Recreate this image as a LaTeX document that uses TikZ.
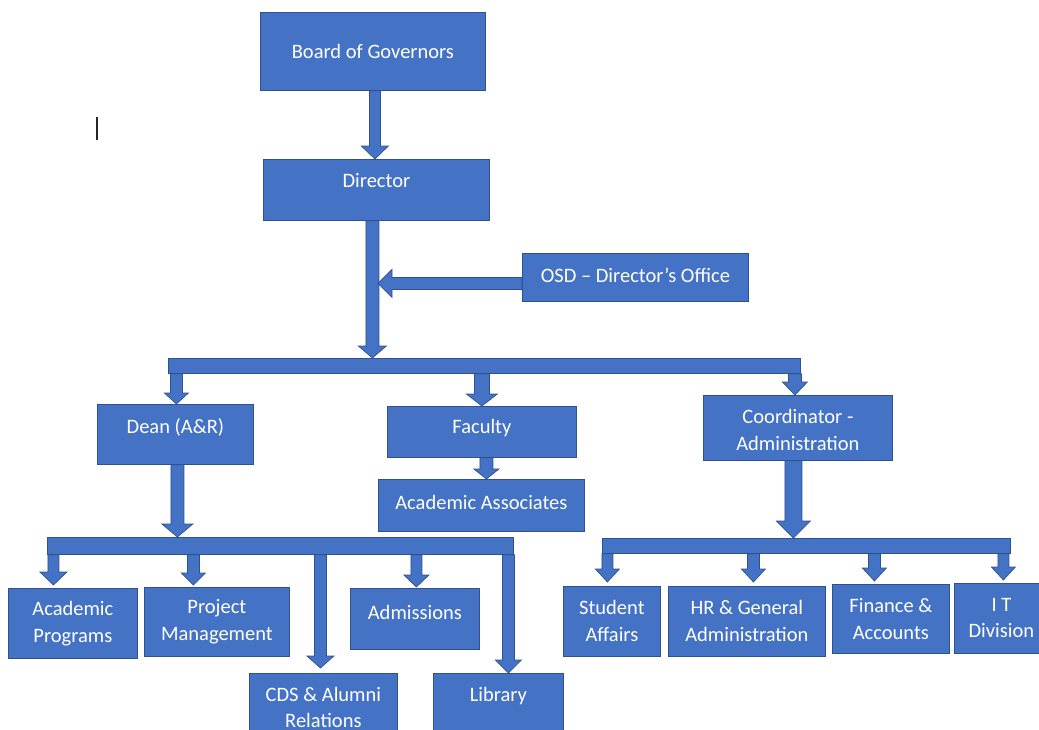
\documentclass[tikz,border=0pt]{standalone}
\usepackage{fontspec}
\setmainfont{Carlito}
\usetikzlibrary{calc}
\definecolor{obl}{HTML}{4472C4}
\definecolor{obd}{HTML}{2F528F}
\tikzset{
  box/.style={draw=obd, fill=obl, line width=0.8pt, inner sep=0pt, anchor=north west},
  lbl/.style={text=white, font=\fontsize{20.5}{26.5}\selectfont, align=center, inner sep=0pt},
  blk/.style={draw=obd, fill=obl, line width=0.7pt, line join=miter},
  cursor/.style={draw=black!85, line width=1.6pt}
}
% down block arrow: #1 start (x and y), #2 tip (y only), #3 shaft half width, #4 head half width, #5 head length
\newcommand\dnarrow[5]{%
  \path[blk] let \p1=#1, \p2=#2 in
    (\x1-#3pt,\y1) -- (\x1+#3pt,\y1) -- (\x1+#3pt,\y2+#5pt) -- (\x1+#4pt,\y2+#5pt)
    -- (\x1,\y2) -- (\x1-#4pt,\y2+#5pt) -- (\x1-#3pt,\y2+#5pt) -- cycle;}
% left block arrow: #1 start (x and y), #2 tip (x only)
\newcommand\lfarrow[5]{%
  \path[blk] let \p1=#1, \p2=#2 in
    (\x1,\y1-#3pt) -- (\x1,\y1+#3pt) -- (\x2+#5pt,\y1+#3pt) -- (\x2+#5pt,\y1+#4pt)
    -- (\x2,\y1) -- (\x2+#5pt,\y1-#4pt) -- (\x2+#5pt,\y1-#3pt) -- cycle;}
\begin{document}
\begin{tikzpicture}[x=1pt, y=-1pt]
\useasboundingbox (0,0) rectangle (1039,729);
\clip (0,0) rectangle (1039,729);

% boxes
\node[box, minimum width=225pt, minimum height=78pt] (bog) at (260,12) {};
\node[box, minimum width=226pt, minimum height=61pt] (dir) at (263,159) {};
\node[box, minimum width=226pt, minimum height=48pt] (osd) at (522,253) {};
\node[box, minimum width=632pt, minimum height=15pt] (bar1) at (168,358) {};
\node[box, minimum width=156pt, minimum height=60pt] (dean) at (97,404) {};
\node[box, minimum width=189pt, minimum height=51pt] (fac) at (387,406) {};
\node[box, minimum width=206pt, minimum height=52pt] (aa) at (378,479) {};
\node[box, minimum width=189pt, minimum height=65pt] (coord) at (703,395) {};
\node[box, minimum width=466pt, minimum height=17pt] (bar2) at (47,537) {};
\node[box, minimum width=408pt, minimum height=15pt] (bar3) at (602,538) {};
\node[box, minimum width=129pt, minimum height=70pt] (ap) at (8,588) {};
\node[box, minimum width=145pt, minimum height=69pt] (pm) at (144,587) {};
\node[box, minimum width=148pt, minimum height=70pt] (cds) at (249,673) {};
\node[box, minimum width=129pt, minimum height=61pt] (adm) at (350,588) {};
\node[box, minimum width=130pt, minimum height=70pt] (lib) at (433,673) {};
\node[box, minimum width=97pt, minimum height=70pt] (sa) at (563,586) {};
\node[box, minimum width=157pt, minimum height=70pt] (hr) at (668,586) {};
\node[box, minimum width=117pt, minimum height=69pt] (fin) at (832,584) {};
\node[box, minimum width=94pt, minimum height=70pt] (it) at (954,583) {};
\coordinate (osdtip) at (378,283);

% block arrows
\dnarrow{([xshift=2pt]bog.south)}{(dir.north)}{5.5}{13.5}{13}
\dnarrow{([xshift=-4pt]dir.south)}{(bar1.north)}{6.5}{14}{12}
\lfarrow{([yshift=-6pt]osd.west)}{(osdtip)}{6}{14}{14}
\dnarrow{([xshift=1pt]bar1.south -| dean.north)}{(dean.north)}{6}{12}{11}
\dnarrow{(bar1.south -| fac.north)}{(fac.north)}{7.5}{15.5}{12}
\dnarrow{([xshift=-3pt]bar1.south -| coord.north)}{(coord.north)}{6.5}{12.5}{13}
\dnarrow{([xshift=4.5pt]fac.south)}{(aa.north)}{6.5}{12.5}{10}
\dnarrow{([xshift=2pt]dean.south)}{(bar2.north)}{6.5}{15.5}{13}
\dnarrow{([xshift=-4.5pt]coord.south)}{(bar3.north)}{8.5}{17}{17}
\dnarrow{([xshift=-19.5pt]bar2.south -| ap.north)}{([yshift=3pt]ap.north)}{5.5}{13.5}{13}
\dnarrow{([xshift=-23.5pt]bar2.south -| pm.north)}{([yshift=2pt]pm.north)}{6}{12}{12}
\dnarrow{([xshift=-3pt]bar2.south -| cds.north)}{([yshift=5pt]cds.north)}{6}{13.5}{12}
\dnarrow{([xshift=1.5pt]bar2.south -| adm.north)}{([yshift=1pt]adm.north)}{5.5}{12.5}{12}
\dnarrow{([xshift=10pt]bar2.south -| lib.north)}{(lib.north)}{6}{13}{13}
\dnarrow{([xshift=-4.5pt]bar3.south -| sa.north)}{([yshift=4pt]sa.north)}{5.5}{12}{13}
\dnarrow{([xshift=6.5pt]bar3.south -| hr.north)}{([yshift=4pt]hr.north)}{6}{12}{13}
\dnarrow{([xshift=-16.5pt]bar3.south -| fin.north)}{([yshift=3pt]fin.north)}{6}{12}{13}
\dnarrow{([xshift=2pt]bar3.south -| it.north)}{([yshift=3pt]it.north)}{5.5}{12}{13}

% labels
\node[lbl] (bog-t) at (bog.center) {Board of Governors};
\node[lbl] (dir-t) at ([yshift=-22pt]dir.north) {Director};
\node[lbl] (osd-t) at ([yshift=-22pt]osd.north) {OSD – Director’s Office};
\node[lbl] (dean-t) at ([yshift=-23pt]dean.north) {Dean (A\&R)};
\node[lbl] (fac-t) at ([yshift=-22pt]fac.north) {Faculty};
\node[lbl] (aa-t) at ([yshift=-23pt]aa.north) {Academic Associates};
\node[lbl] (coord-t) at ([yshift=-35pt]coord.north) {Coordinator -\\Administration};
\node[lbl] (ap-t) at ([yshift=-35.5pt]ap.north) {Academic\\Programs};
\node[lbl] (pm-t) at ([yshift=-34.5pt]pm.north) {Project\\Management};
\node[lbl] (cds-t) at ([yshift=-34.5pt]cds.north) {CDS \& Alumni\\Relations};
\node[lbl] (adm-t) at ([yshift=-24pt]adm.north) {Admissions};
\node[lbl] (lib-t) at ([yshift=-23pt]lib.north) {Library};
\node[lbl] (sa-t) at ([yshift=-35pt]sa.north) {Student\\Affairs};
\node[lbl] (hr-t) at ([yshift=-35pt]hr.north) {HR \& General\\Administration};
\node[lbl] (fin-t) at ([yshift=-35pt]fin.north) {Finance \&\\Accounts};
\node[lbl] (it-t) at ([yshift=-35pt]it.north) {I T\\Division};

% stray text cursor
\draw[cursor] (97,117) -- (97,140);
\end{tikzpicture}
\end{document}
